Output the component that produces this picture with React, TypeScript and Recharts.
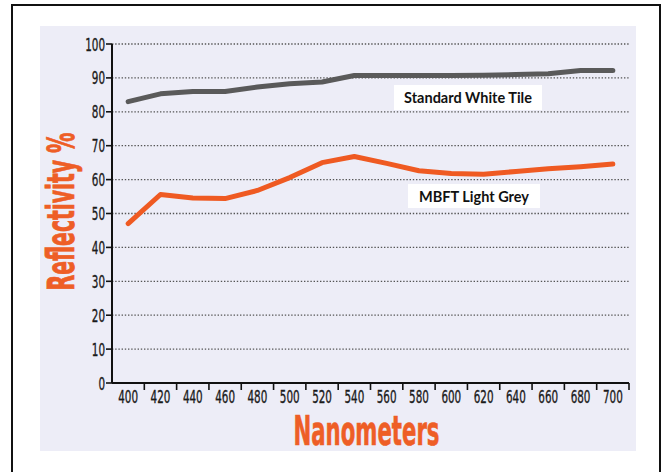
import React from 'react';
import { LineChart, Line, XAxis, YAxis, CartesianGrid } from 'recharts';

const wavelengths = [400, 420, 440, 460, 480, 500, 520, 540, 560, 580, 600, 620, 640, 660, 680, 700];
const whiteTile = [83, 85.3, 86, 86, 87.3, 88.3, 88.8, 90.7, 90.7, 90.7, 90.7, 90.8, 91, 91.2, 92.2, 92.2];
const lightGrey = [47, 55.6, 54.6, 54.4, 56.8, 60.6, 65, 66.8, 64.8, 62.6, 61.8, 61.6, 62.4, 63.2, 63.8, 64.6];
const yTicks = [0, 10, 20, 30, 40, 50, 60, 70, 80, 90, 100];
const seriesNames = ['Standard White Tile', 'MBFT Light Grey'];
const xTitle = 'Nanometers';
const yTitle = 'Reflectivity %';

const data = wavelengths.map((w, i) => ({ nm: w, white: whiteTile[i], grey: lightGrey[i] }));

const W = 667;
const H = 472;
const X_AXIS_H = 89;
const M = { top: 44, right: 38, bottom: 0, left: 0 };
const Y_AXIS_W = 112;
const PLOT_W = W - M.left - M.right - Y_AXIS_W;
const HALF_BAND = PLOT_W / 32;

const NARROW = '"Liberation Sans Narrow", "DejaVu Sans Condensed", "Arial Narrow", "Liberation Sans", sans-serif';
const ORANGE = '#ee5e26';
const DIGIT_W = 6.6;
const TICK_FS = 18;

const XTick = (props: any) => {
  const { x, y, payload } = props;
  const s = String(payload.value);
  return (
    <g>
      <line x1={x + HALF_BAND} x2={x + HALF_BAND} y1={y} y2={y + 7} stroke="#111" strokeWidth={1.6} />
      <text
        x={x}
        y={y + 13}
        textAnchor="middle"
        dominantBaseline="central"
        fontFamily={NARROW}
        fontSize={TICK_FS}
        textLength={s.length * DIGIT_W}
        lengthAdjust="spacingAndGlyphs"
        fill="#1a1a1a"
        stroke="#1a1a1a"
        strokeWidth={0.35}
      >
        {s}
      </text>
    </g>
  );
};

const YTick = (props: any) => {
  const { x, y, payload } = props;
  const s = String(payload.value);
  return (
    <text
      x={x}
      y={y}
      textAnchor="end"
      dominantBaseline="central"
      fontFamily={NARROW}
      fontSize={TICK_FS}
      textLength={s.length * DIGIT_W}
      lengthAdjust="spacingAndGlyphs"
      fill="#1a1a1a"
      stroke="#1a1a1a"
      strokeWidth={0.35}
    >
      {s}
    </text>
  );
};

const YLabel = (props: any) => {
  const vb = props.viewBox || { y: 44, height: 339 };
  const cy = vb.y + vb.height / 2 - 2;
  const cx = 61;
  return (
    <text
      x={cx}
      y={cy}
      transform={`rotate(-90 ${cx} ${cy})`}
      textAnchor="middle"
      dominantBaseline="central"
      fontFamily={NARROW}
      fontWeight="bold"
      fontSize={37}
      textLength={158}
      lengthAdjust="spacingAndGlyphs"
      fill={ORANGE}
      stroke={ORANGE}
      strokeWidth={0.8}
    >
      {yTitle}
    </text>
  );
};

const XLabel = (props: any) => {
  const vb = props.viewBox || { x: 112, y: 383, width: 517 };
  const cx = vb.x + vb.width / 2 - 4;
  const cy = vb.y + 48;
  return (
    <text
      x={cx}
      y={cy}
      textAnchor="middle"
      dominantBaseline="central"
      fontFamily={NARROW}
      fontWeight="bold"
      fontSize={40}
      textLength={146}
      lengthAdjust="spacingAndGlyphs"
      fill={ORANGE}
      stroke={ORANGE}
      strokeWidth={0.6}
    >
      {xTitle}
    </text>
  );
};

const boxText: React.CSSProperties = {
  position: 'absolute',
  background: '#ffffff',
  fontFamily: 'Lato, "Open Sans", sans-serif',
  fontWeight: 700,
  fontSize: 14.5,
  color: '#111',
  display: 'flex',
  alignItems: 'center',
  justifyContent: 'center',
  whiteSpace: 'nowrap',
};

export default function App() {
  return (
    <div style={{ position: 'absolute', left: 0, top: 0, width: W, height: H, background: '#fff', overflow: 'hidden' }}>
      <div style={{ position: 'absolute', left: 11, top: 4, width: 646, height: 490, border: '2px solid #111' }} />
      <div style={{ position: 'absolute', left: 40, top: 26, width: 596, height: 425, background: '#ededf7' }} />
      <div style={{ position: 'absolute', left: 0, top: 0 }}>
        <LineChart width={W} height={H} data={data} margin={M}>
          <CartesianGrid horizontal vertical={false} stroke="#555" strokeWidth={1.3} strokeDasharray="1.4 1.8" />
          <XAxis
            dataKey="nm"
            type="number"
            domain={[390, 710]}
            ticks={wavelengths}
            interval={0}
            tickLine={false}
            tickSize={0}
            tickMargin={0}
            axisLine={{ stroke: '#111', strokeWidth: 2 }}
            tick={<XTick />}
            height={X_AXIS_H}
            label={<XLabel />}
          />
          <YAxis
            type="number"
            domain={[0, 100]}
            ticks={yTicks}
            interval={0}
            width={Y_AXIS_W}
            tickSize={6}
            tickMargin={1}
            tickLine={{ stroke: '#111', strokeWidth: 1.6 }}
            axisLine={{ stroke: '#111', strokeWidth: 2 }}
            tick={<YTick />}
            label={<YLabel />}
          />
          <Line
            dataKey="white"
            name={seriesNames[0]}
            stroke="#5a5a5a"
            strokeWidth={5}
            dot={false}
            type="linear"
            strokeLinejoin="round"
            strokeLinecap="round"
            isAnimationActive={false}
          />
          <Line
            dataKey="grey"
            name={seriesNames[1]}
            stroke="#ef5a22"
            strokeWidth={5}
            dot={false}
            type="linear"
            strokeLinejoin="round"
            strokeLinecap="round"
            isAnimationActive={false}
          />
        </LineChart>
      </div>
      <div style={{ ...boxText, left: 394, top: 85, width: 148, height: 25 }}>{seriesNames[0]}</div>
      <div style={{ ...boxText, left: 408, top: 184, width: 132, height: 24 }}>{seriesNames[1]}</div>
    </div>
  );
}
